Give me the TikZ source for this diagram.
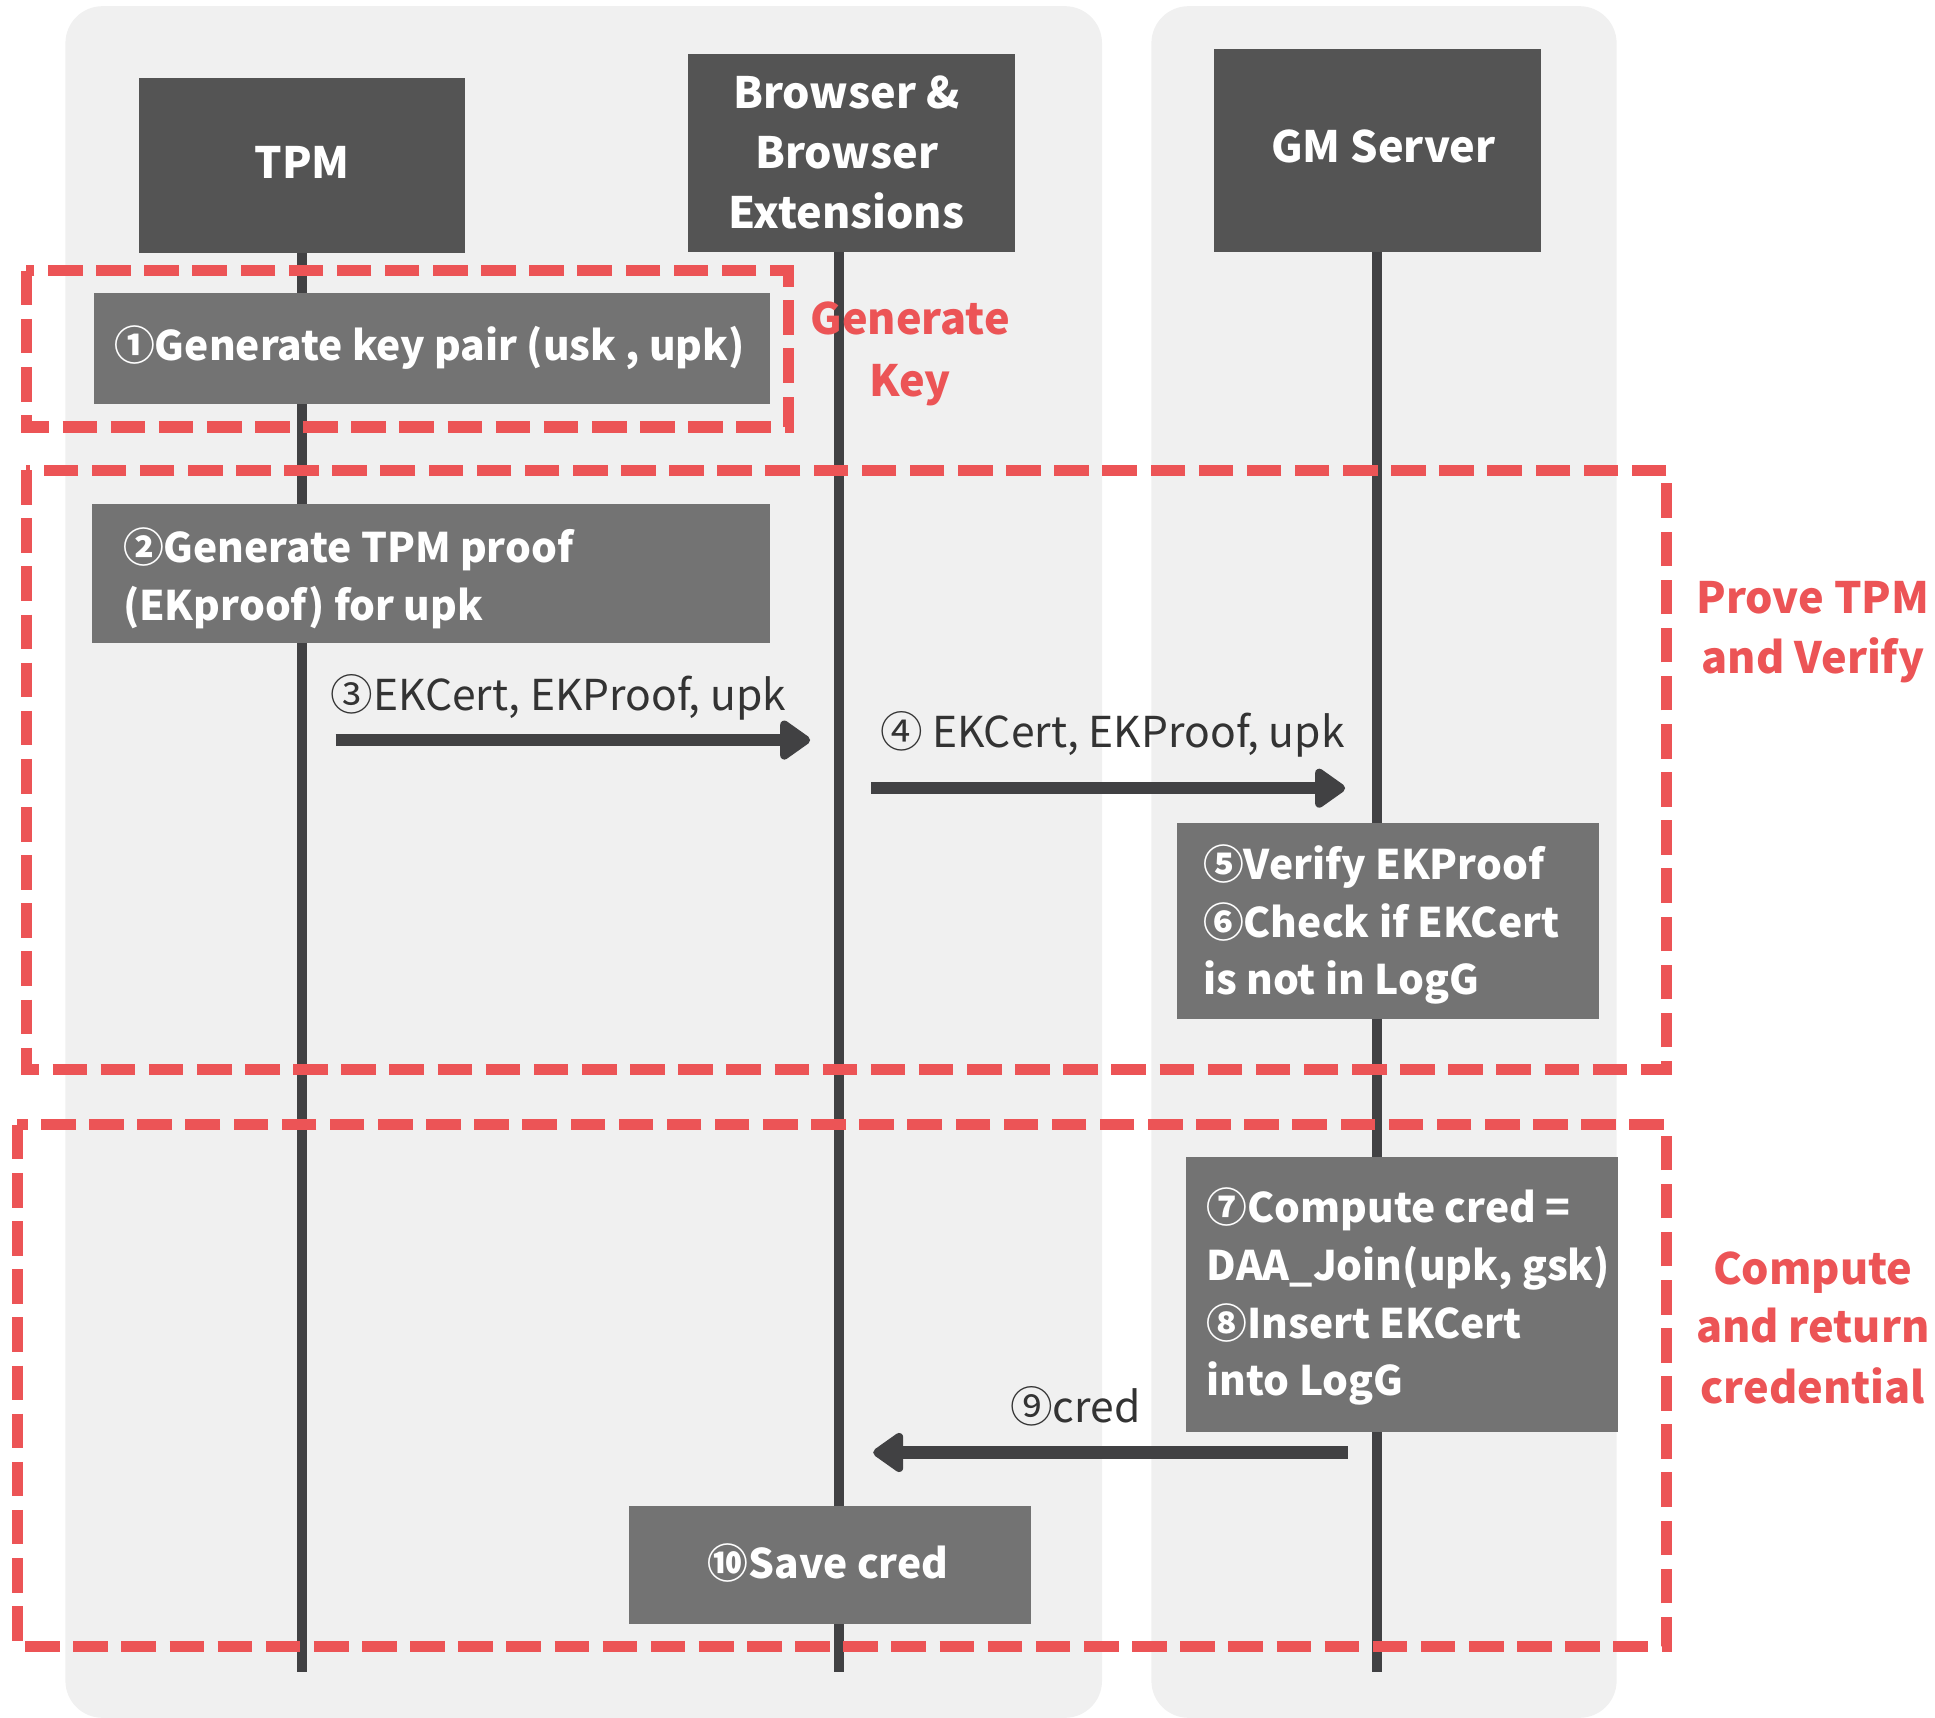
\documentclass[tikz,border=0pt]{standalone}
\usepackage{fontspec}
\setmainfont{Noto Sans CJK SC}
\usetikzlibrary{arrows.meta}
\definecolor{lanebg}{HTML}{F0F0F0}
\definecolor{headbg}{HTML}{545454}
\definecolor{stepbg}{HTML}{737373}
\definecolor{linec}{HTML}{414143}
\definecolor{redc}{HTML}{EC5456}
\definecolor{msgc}{HTML}{333333}
\begin{document}
\begin{tikzpicture}[x=1pt,y=-1pt,
  lane/.style={fill=lanebg, rounded corners=30pt},
  headbox/.style={fill=headbg, inner sep=0pt},
  stepbox/.style={fill=stepbg, inner sep=0pt},
  lifeline/.style={draw=linec, line width=8pt},
  redbox/.style={draw=redc, line width=9pt, dash pattern=on 28pt off 11pt},
  wtext/.style={text=white, inner sep=0pt, font=\bfseries\fontsize{35}{47}\selectfont},
  stext/.style={text=white, inner sep=0pt, font=\bfseries\fontsize{33}{47}\selectfont},
  rtext/.style={text=redc, inner sep=0pt, font=\bfseries\fontsize{35}{47}\selectfont},
  mtext/.style={text=msgc, inner sep=0pt, font=\fontsize{34.5}{40}\selectfont},
  msg/.style={draw=linec, line width=10pt, -{Triangle[length=27pt,width=36pt,round]}}
]
\useasboundingbox (0,0) rectangle (1568,1392);
% lanes
\fill[lane] (53,5) rectangle (893,1392);
\fill[lane] (933,5) rectangle (1310,1392);
% headers
\node[headbox, minimum width=264pt, minimum height=142pt] (tpm) at (244.7,134) {};
\node[headbox, minimum width=265pt, minimum height=160pt] (brw) at (690,123.9) {};
\node[headbox, minimum width=265pt, minimum height=164pt] (gm) at (1116.5,121.9) {};
\node[wtext, anchor=base] (tpmt) at (244.7,145) {TPM};
\node[wtext, anchor=base] (brwt1) at (686,88) {Browser \&};
\node[wtext, anchor=base] (brwt2) at (686,136.6) {Browser};
\node[wtext, anchor=base] (brwt3) at (686,185) {Extensions};
\node[wtext, anchor=base] (gmt) at (1121,131.6) {GM Server};
% lifelines
\coordinate (tpmend) at (245,1354.6);
\coordinate (brwend) at (680,1354.6);
\coordinate (gmend) at (1116,1354.6);
\draw[lifeline] (tpm.south -| tpmend) -- (tpmend);
\draw[lifeline] (brw.south -| brwend) -- (brwend);
\draw[lifeline] (gm.south -| gmend) -- (gmend);
% red dashed phases
\draw[redbox] (21.3,219.4) rectangle (639,346);
\draw[redbox] (21.3,381) rectangle (1350.6,866.7);
\draw[redbox] (13.9,911.5) rectangle (1350.6,1334);
% phase labels
\node[rtext, anchor=base] (gk1) at (737.5,271) {Generate};
\node[rtext, anchor=base] (gk2) at (737.5,321) {Key};
\node[rtext, anchor=base] (pv1) at (1469,497.5) {Prove TPM};
\node[rtext, anchor=base] (pv2) at (1469,546) {and Verify};
\node[rtext, anchor=base] (cr1) at (1469,1041) {Compute};
\node[rtext, anchor=base] (cr2) at (1469,1088) {and return};
\node[rtext, anchor=base] (cr3) at (1469,1137.4) {credential};
% step boxes
\node[stepbox, minimum width=548pt, minimum height=89.5pt] (s1) at (350,282.25) {};
\node[stext, anchor=base] (s1t) at (348,292.5) {①Generate key pair (usk , upk)};
\node[stepbox, minimum width=549.5pt, minimum height=112.5pt] (s2) at (349.25,464.75) {};
\node[stext, anchor=base west] (s2t1) at (99.5,455.5) {②Generate TPM proof};
\node[stext, anchor=base west] (s2t2) at (99.5,502.6) {(EKproof) for upk};
\node[stepbox, minimum width=342pt, minimum height=159pt] (s5) at (1125,746.5) {};
\node[stext, anchor=base west] (s5t1) at (974.7,712.7) {⑤Verify EKProof};
\node[stext, anchor=base west] (s5t2) at (974.7,759.7) {⑥Check if EKCert};
\node[stext, anchor=base west] (s5t3) at (974.7,805.5) {is not in LogG};
\node[stepbox, minimum width=350pt, minimum height=223pt] (s7) at (1136,1049.1) {};
\node[stext, anchor=base west] (s7t1) at (977.7,991) {⑦Compute cred =};
\node[stext, anchor=base west] (s7t2) at (977.7,1037.7) {DAA\_Join(upk, gsk)};
\node[stext, anchor=base west] (s7t3) at (977.7,1084.7) {⑧Insert EKCert};
\node[stext, anchor=base west] (s7t4) at (977.7,1131) {into LogG};
\node[stepbox, minimum width=325.6pt, minimum height=95.6pt] (s10) at (672.6,1268.2) {};
\node[stext, anchor=base] (s10t) at (671,1279) {⑩Save cred};
% messages
\coordinate (a3s) at (272,599.7);
\coordinate (a3e) at (656.5,599.7);
\coordinate (a4s) at (706,638.7);
\coordinate (a4e) at (1090,638.7);
\coordinate (a9s) at (1092,1177);
\coordinate (a9e) at (707.6,1177);
\draw[msg] (a3s) -- (a3e);
\draw[msg] (a4s) -- (a4e);
\draw[msg] (a9s) -- (a9e);
\node[mtext, anchor=base west] (m3) at (268,576) {③EKCert, EKProof, upk};
\node[mtext, anchor=base west] (m4) at (713,606) {④ EKCert, EKProof, upk};
\node[mtext, anchor=base west] (m9) at (818.5,1152.6) {⑨cred};
\end{tikzpicture}
\end{document}
